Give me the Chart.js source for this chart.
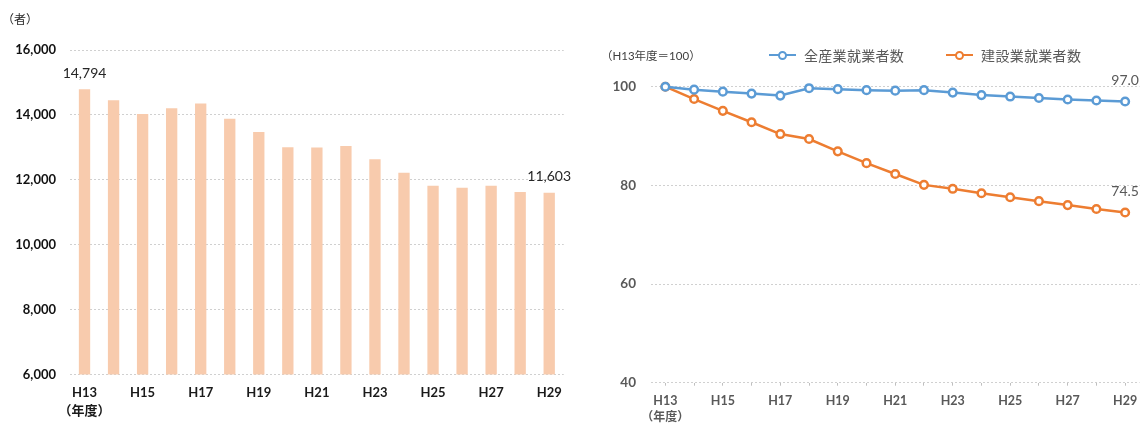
<!DOCTYPE html>
<html lang="ja">
<head>
<meta charset="utf-8">
<script src="https://cdn.jsdelivr.net/npm/chart.js@4.4.1/dist/chart.umd.min.js"></script>
<style>
  html, body { margin: 0; padding: 0; background: #fff; }
  body {
    width: 1146px; height: 423px; position: relative; overflow: hidden;
    font-family: Lato, 'Noto Sans CJK JP', sans-serif;
  }
  .box { position: absolute; top: 0; width: 573px; height: 423px; }
  #leftBox { left: 0; }
  #rightBox { left: 573px; }
  .note { position: absolute; white-space: nowrap; line-height: 1; }
  #legend {
    position: absolute; left: 769px; top: 45px;
    display: flex; gap: 42px; align-items: center;
  }
  .lg-item { display: flex; align-items: center; }
  .lg-mark { position: relative; width: 27px; height: 12px; display: inline-block; }
  .lg-mark::before {
    content: ''; position: absolute; left: 0; right: 0; top: 50%;
    height: 2.5px; margin-top: -1.25px; background: var(--c);
  }
  .lg-mark::after {
    content: ''; position: absolute; left: 50%; top: 50%;
    width: 5px; height: 5px; margin: -4.5px 0 0 -4.5px;
    border: 2px solid var(--c); border-radius: 50%; background: #fff;
  }
  .lg-text {
    margin-left: 8px; font-size: 14px; color: #595959; letter-spacing: 0.3px;
    font-family: 'Noto Sans CJK JP', sans-serif;
  }
</style>
</head>
<body>
<div class="box" id="leftBox"><canvas id="countChart" width="573" height="423"></canvas></div>
<div class="box" id="rightBox"><canvas id="indexChart" width="573" height="423"></canvas></div>

<div class="note" id="unitLeft" style="left:2px; top:14px; font-size:12px; color:#262626;">（者）</div>
<div class="note" id="unitRight" style="left:601px; top:50px; font-size:11.5px; color:#404040;">（H13年度＝100）</div>
<div class="note" id="yearLeft" style="top:404px; font-size:13px; font-weight:bold; color:#1a1a1a;">（年度）</div>
<div class="note" id="yearRight" style="top:411px; font-size:12px; font-weight:bold; color:#595959;">（年度）</div>
<div id="legend"></div>

<script>
const years = ['H13', 'H14', 'H15', 'H16', 'H17', 'H18', 'H19', 'H20', 'H21',
               'H22', 'H23', 'H24', 'H25', 'H26', 'H27', 'H28', 'H29'];

// construction workers (persons)
const constructionWorkers = [14794, 14450, 14030, 14205, 14350, 13885, 13475, 13005, 12995,
                             13045, 12635, 12215, 11815, 11755, 11815, 11625, 11603];

// index, H13 = 100
const allIndustryIndex = [100, 99.4, 99.0, 98.6, 98.2, 99.7, 99.5, 99.3, 99.2,
                          99.3, 98.8, 98.3, 98.0, 97.7, 97.4, 97.2, 97.0];
const constructionIndex = [100, 97.5, 95.1, 92.8, 90.4, 89.4, 86.9, 84.5, 82.3,
                           80.1, 79.3, 78.4, 77.6, 76.8, 76.0, 75.2, 74.5];
const seriesNames = ['全産業就業者数', '建設業就業者数'];

const countTicks = [6000, 16000, 2000];   // min, max, step
const indexTicks = [40, 100, 20];

const FONT = "Lato, 'Noto Sans CJK JP', sans-serif";

// draws the value text above selected points
const valueLabels = {
    id: 'valueLabels',
    afterDatasetsDraw(chart, args, opts) {
        const ctx = chart.ctx;
        ctx.save();
        ctx.font = opts.font;
        ctx.fillStyle = opts.color;
        ctx.textAlign = 'center';
        ctx.textBaseline = 'middle';
        chart.data.datasets.forEach((ds, di) => {
            const meta = chart.getDatasetMeta(di);
            opts.indexes.forEach(i => {
                const el = meta.data[i];
                const text = ds.data[i].toLocaleString('en-US', {
                    minimumFractionDigits: opts.decimals,
                    maximumFractionDigits: opts.decimals
                });
                ctx.fillText(text, el.x, el.y - opts.offset);
            });
        });
        ctx.restore();
    }
};

const gridStyle = { color: '#D0D0D0', lineWidth: 1, drawTicks: false };

const countChart = new Chart(document.getElementById('countChart'), {
    type: 'bar',
    data: {
        labels: years,
        datasets: [{
            data: constructionWorkers,
            backgroundColor: '#F8CBAD',
            borderWidth: 0,
            barPercentage: 0.39,
            categoryPercentage: 1
        }]
    },
    options: {
        responsive: false,
        animation: false,
        layout: { padding: { top: 50, right: 8, left: 0, bottom: 0 } },
        plugins: {
            legend: { display: false },
            tooltip: { enabled: false },
            valueLabels: {
                indexes: [0, years.length - 1],
                decimals: 0,
                offset: 16,
                font: '14px ' + FONT,
                color: '#262626'
            }
        },
        scales: {
            x: {
                grid: { display: false, drawTicks: false },
                border: { display: false },
                afterFit: s => { s.height = 48.5; },
                ticks: {
                    autoSkip: false,
                    maxRotation: 0,
                    padding: 11,
                    color: '#1a1a1a',
                    font: { family: FONT, size: 13, weight: 'bold' },
                    callback: (v, i) => (i % 2 === 0 ? years[i] : '')
                }
            },
            y: {
                min: countTicks[0],
                max: countTicks[1],
                grid: gridStyle,
                border: { display: false, dash: [2, 2] },
                afterFit: s => { s.width = 70; },
                ticks: {
                    stepSize: countTicks[2],
                    padding: 14,
                    color: '#111',
                    font: { family: FONT, size: 13, weight: 'bold' },
                    callback: v => v.toLocaleString('en-US')
                }
            }
        }
    },
    plugins: [valueLabels]
});

const lineColors = ['#5B9BD5', '#ED7D31'];

const indexChart = new Chart(document.getElementById('indexChart'), {
    type: 'line',
    data: {
        labels: years,
        datasets: [allIndustryIndex, constructionIndex].map((d, i) => ({
            label: seriesNames[i],
            data: d,
            borderColor: lineColors[i],
            borderWidth: 2.5,
            pointRadius: 3.8,
            pointBorderWidth: 2.5,
            pointBackgroundColor: '#fff',
            pointBorderColor: lineColors[i],
            tension: 0,
            clip: false
        }))
    },
    options: {
        responsive: false,
        animation: false,
        layout: { padding: { top: 86.7, right: 1, left: 0, bottom: 0 } },
        plugins: {
            legend: { display: false },
            tooltip: { enabled: false },
            valueLabels: {
                indexes: [years.length - 1],
                decimals: 1,
                offset: 21,
                font: '14px ' + FONT,
                color: '#595959'
            }
        },
        scales: {
            x: {
                offset: true,
                grid: {
                    display: true, drawOnChartArea: false, drawTicks: true,
                    tickLength: 3, color: '#BFBFBF', offset: false
                },
                border: { display: false },
                afterFit: s => { s.height = 40.3; },
                ticks: {
                    autoSkip: false,
                    maxRotation: 0,
                    padding: 8,
                    color: '#595959',
                    font: { family: FONT, size: 12.5, weight: 'bold' },
                    callback: (v, i) => (i % 2 === 0 ? years[i] : '')
                }
            },
            y: {
                min: indexTicks[0],
                max: indexTicks[1],
                grid: gridStyle,
                border: { display: false, dash: [2, 2] },
                afterFit: s => { s.width = 78; },
                ticks: {
                    stepSize: indexTicks[2],
                    padding: 15,
                    color: '#595959',
                    font: { family: FONT, size: 13.5, weight: 'bold' }
                }
            }
        }
    },
    plugins: [valueLabels]
});

// legend built from the line datasets
const legendEl = document.getElementById('legend');
indexChart.data.datasets.forEach(ds => {
    const item = document.createElement('div');
    item.className = 'lg-item';
    item.innerHTML = '<span class="lg-mark" style="--c:' + ds.borderColor + '"></span>' +
                     '<span class="lg-text">' + ds.label + '</span>';
    legendEl.appendChild(item);
});

// centre the （年度） notes under the first category
function placeUnder(id, chart, offsetLeft) {
    const el = document.getElementById(id);
    const x = chart.scales.x.getPixelForValue(0) + offsetLeft;
    el.style.left = (x - el.offsetWidth / 2) + 'px';
}
placeUnder('yearLeft', countChart, 0);
placeUnder('yearRight', indexChart, 573);
</script>
</body>
</html>
